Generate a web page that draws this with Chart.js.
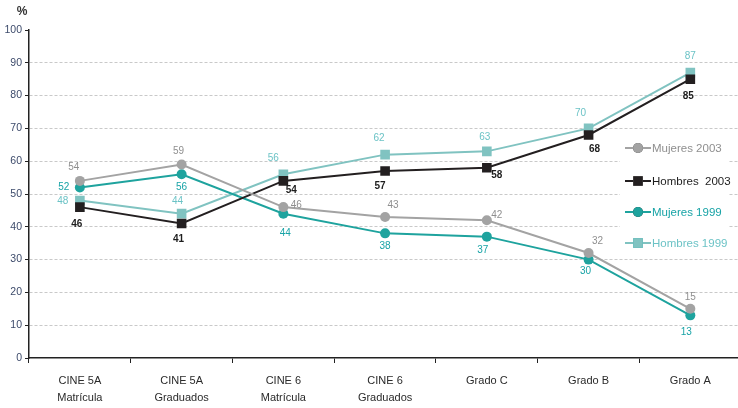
<!DOCTYPE html>
<html>
<head>
<meta charset="utf-8">
<script src="https://cdn.jsdelivr.net/npm/chart.js@4/dist/chart.umd.min.js"></script>
<style>
html,body{margin:0;padding:0;background:#fff;overflow:hidden;}
#wrap{position:relative;width:738px;height:408px;overflow:hidden;}
canvas{display:block;}
</style>
</head>
<body>
<div id="wrap"><canvas id="c" width="748" height="408"></canvas></div>
<script>
// ---- data ----
const categories = [
  ['CINE 5A', 'Matrícula'],
  ['CINE 5A', 'Graduados'],
  ['CINE 6', 'Matrícula'],
  ['CINE 6', 'Graduados'],
  'Grado C',
  'Grado B',
  'Grado A'
];
const seriesNames = ['Mujeres 2003', 'Hombres  2003', 'Mujeres 1999', 'Hombres 1999'];
const mujeres2003 = [54, 59, 46, 43, 42, 32, 15];
const hombres2003 = [46, 41, 54, 57, 58, 68, 85];
const mujeres1999 = [52, 56, 44, 38, 37, 30, 13];
const hombres1999 = [48, 44, 56, 62, 63, 70, 87];
const yTicks = [0, 10, 20, 30, 40, 50, 60, 70, 80, 90, 100];

// ---- styles ----
const lineColors = ['#a3a3a3', '#231f20', '#1ea39e', '#80c3c1'];
const labelColors = ['#8f8f8f', '#1d1d1d', '#17a3a6', '#6cc3c6'];
const pointStyles = ['circle', 'rect', 'circle', 'rect'];
const pointRadii = [5, 6.8, 5, 6.8];
// label offsets (dx, dy) relative to each point, per series
const labelOffsets = [
  [[-6,-14],[-3,-13],[13,-2],[8,-12],[10,-5],[9,-12],[0,-12]],
  [[-3,17],[-3,16],[8,9],[-5,15],[10,7],[6,14],[-2,17]],
  [[-16,0],[0,13],[2,20],[0,13],[-4,14],[-3,12],[-4,17]],
  [[-17,1],[-4,-12],[-10,-16],[-6,-16],[-2,-14],[-8,-15],[0,-16]]
];
const labelFont = '10px "Liberation Sans Narrow", "Liberation Sans", Arial, sans-serif';
const labelFontBold = 'bold 10px "Liberation Sans Narrow", "Liberation Sans", Arial, sans-serif';

const allSeries = [mujeres2003, hombres2003, mujeres1999, hombres1999];

const datasets = allSeries.map((vals, i) => ({
  label: seriesNames[i],
  data: vals,
  borderColor: lineColors[i],
  backgroundColor: lineColors[i],
  pointBackgroundColor: lineColors[i],
  pointBorderColor: lineColors[i],
  pointStyle: pointStyles[i],
  pointRadius: pointRadii[i],
  pointBorderWidth: 0,
  borderWidth: 2,
  tension: 0,
  fill: false
}));

const extras = {
  id: 'extras',
  beforeDatasetsDraw(chart) {
    const ctx = chart.ctx;
    ctx.save();
    ctx.fillStyle = '#ffffff';
    ctx.fillRect(620, 140, 108, 116);
    ctx.restore();
  },
  afterDatasetsDraw(chart) {
    const ctx = chart.ctx;
    ctx.save();
    // data labels
    ctx.textAlign = 'center';
    ctx.textBaseline = 'middle';
    chart.data.datasets.forEach((ds, i) => {
      const meta = chart.getDatasetMeta(i);
      meta.data.forEach((pt, j) => {
        const off = labelOffsets[i][j];
        ctx.font = i === 1 ? labelFontBold : labelFont;
        ctx.fillStyle = labelColors[i];
        ctx.fillText(String(ds.data[j]), pt.x + off[0], pt.y + off[1]);
      });
    });
    // percent sign
    ctx.font = 'bold 12px "Liberation Sans", Arial, sans-serif';
    ctx.fillStyle = '#333333';
    ctx.textAlign = 'center';
    ctx.fillText('%', 22, 12);
    // legend
    const rows = [148, 181, 212, 243];
    ctx.font = '11.5px "Liberation Sans", Arial, sans-serif';
    ctx.textAlign = 'left';
    chart.data.datasets.forEach((ds, i) => {
      const y = rows[i];
      ctx.strokeStyle = lineColors[i];
      ctx.lineWidth = 2;
      ctx.beginPath();
      ctx.moveTo(625, y);
      ctx.lineTo(651, y);
      ctx.stroke();
      Chart.helpers.drawPoint(ctx, {
        pointStyle: pointStyles[i],
        radius: pointRadii[i],
        borderWidth: 0,
        rotation: 0
      }, 638, y);
      ctx.fillStyle = lineColors[i];
      ctx.fill();
      ctx.fillStyle = labelColors[i];
      ctx.fillText(ds.label, 652, y + 1);
    });
    ctx.restore();
  }
};

new Chart(document.getElementById('c'), {
  type: 'line',
  data: { labels: categories, datasets },
  plugins: [extras],
  options: {
    responsive: false,
    devicePixelRatio: 1,
    animation: false,
    layout: { padding: { top: 30, right: 0, left: 0, bottom: 0 } },
    plugins: { legend: { display: false }, tooltip: { enabled: false } },
    scales: {
      x: {
        type: 'category',
        offset: true,
        afterFit(s) { s.height = 50; },
        grid: {
          offset: true,
          drawOnChartArea: false,
          drawTicks: true,
          tickLength: 5,
          tickColor: '#222',
          tickWidth: 1
        },
        border: { display: true, color: '#222', width: 1.5 },
        ticks: {
          color: '#2a2a2a',
          padding: 10,
          maxRotation: 0,
          autoSkip: false,
          font: { family: '"Liberation Sans Narrow", "Liberation Sans", Arial, sans-serif', size: 11, lineHeight: 1.5 }
        }
      },
      y: {
        min: 0,
        max: 100,
        afterFit(s) { s.width = 29; },
        afterBuildTicks(s) { s.ticks = yTicks.map(v => ({ value: v })); },
        grid: {
          color: (c) => (c.tick && (c.tick.value === 0 || c.tick.value === 100)) ? 'rgba(0,0,0,0)' : '#c9c9c9',
          lineWidth: 1,
          drawTicks: true,
          tickLength: 4,
          tickColor: '#222',
          tickWidth: 1
        },
        border: { display: true, color: '#222', width: 1.5, dash: [3, 2] },
        ticks: {
          color: '#3d4b6b',
          padding: 3,
          font: { family: '"Liberation Sans Narrow", "Liberation Sans", Arial, sans-serif', size: 10.5 }
        }
      }
    }
  }
});
</script>
</body>
</html>
